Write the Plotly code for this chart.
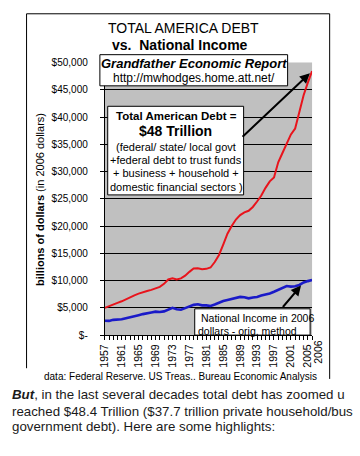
import plotly.graph_objects as go

W, H = 360, 456


def px(x):
    return x / W


def py(y):
    return 1 - y / H


FONT = "Liberation Sans, Arial, sans-serif"

# ---------------- data ----------------
years = list(range(1957, 2007))
total_debt = [
    5000, 5350, 5650, 5900, 6200, 6600, 7000, 7300, 7600, 7900,
    8100, 8300, 8550, 8850, 9400, 10200, 10400, 10200, 10400, 10900,
    11600, 12200, 12250, 12100, 12150, 12400, 13400, 14700, 16600, 18600,
    20000, 21200, 22000, 22500, 22800, 23500, 24500, 25600, 27000, 28200,
    28900, 31700, 33400, 35200, 36800, 37900, 41000, 44000, 46300, 48400,
]
national_income = [
    2620, 2600, 2800, 2850, 2900, 3100, 3250, 3450, 3650, 3850,
    3950, 4150, 4300, 4250, 4350, 4700, 5000, 4750, 4650, 4950,
    5250, 5550, 5650, 5450, 5450, 5350, 5600, 6000, 6250, 6450,
    6650, 6900, 7000, 6950, 6750, 6900, 7000, 7250, 7400, 7650,
    7950, 8300, 8650, 9000, 8900, 8950, 9200, 9650, 9900, 10100,
]
y_ticks = list(range(0, 50001, 5000))
y_tick_text = ["$-"] + [f"${v:,}" for v in y_ticks[1:]]
x_tick_years = list(range(1957, 2006, 4))
x_tick_text = [str(v) for v in x_tick_years]
x_extra_label = "2006"

fig = go.Figure()
fig.add_trace(go.Scatter(x=years, y=total_debt, mode="lines",
                         line=dict(color="#E8141C", width=2), showlegend=False,
                         hoverinfo="skip"))
fig.add_trace(go.Scatter(x=years, y=national_income, mode="lines",
                         line=dict(color="#1A1AC8", width=2.6), showlegend=False,
                         hoverinfo="skip"))

shapes = []
# outer frame (left, top, right)
shapes.append(dict(type="line", xref="paper", yref="paper", x0=px(20), x1=px(20),
                   y0=py(8), y1=py(372), line=dict(color="black", width=1)))
shapes.append(dict(type="line", xref="paper", yref="paper", x0=px(20), x1=px(330),
                   y0=py(8), y1=py(8), line=dict(color="black", width=1)))
shapes.append(dict(type="line", xref="paper", yref="paper", x0=px(330), x1=px(330),
                   y0=py(8), y1=py(383), line=dict(color="black", width=1)))
# text boxes
for (x0, y0, x1, y1) in [(95, 50, 287, 82), (103, 103, 242, 194), (192, 311, 310, 338)]:
    shapes.append(dict(type="rect", xref="paper", yref="paper", layer="above",
                       x0=px(x0), x1=px(x1), y0=py(y0), y1=py(y1),
                       fillcolor="white", line=dict(color="black", width=1)))

ann = []


def text(t, x, y, size, anchor="center", angle=0, color="black"):
    ann.append(dict(text=t, xref="paper", yref="paper", x=px(x), y=py(y),
                    xanchor=anchor, yanchor="middle", showarrow=False,
                    textangle=angle, font=dict(family=FONT, size=size, color=color)))


text("TOTAL AMERICA DEBT", 181, 23, 14)
text("<b>vs.&nbsp; National Income</b>", 177, 40, 14)
text("<b>billions of dollars</b> (in 2006 dollars)", 34, 199, 11, angle=-90)
text("<b><i>Grandfather Economic Report</i></b>", 191, 59, 13)
text("http://mwhodges.home.att.net/", 191, 74, 12)
text("<b>Total American Debt =</b>", 173, 113, 11.5)
text("<b>$48 Trillion</b>", 172, 128, 14)
text("(federal/ state/ local govt", 173, 145, 11)
text("+federal debt to trust funds", 173, 158, 11)
text("+ business + household +", 173, 172, 11)
text("domestic financial sectors )", 173, 186, 11)
text("National Income in 2006", 196, 320, 10.5, anchor="left")
text("dollars - orig. method", 193, 334, 10.5, anchor="left")
text("data: Federal Reserve. US Treas.. Bureau Economic Analysis", 177, 381, 10)
text("<b><i>But</i></b>, in the last several decades total debt has zoomed u", 3, 399, 13.3, anchor="left", color="#1a1a1a")
text("reached $48.4 Trillion ($37.7 trillion private household/bus", 3, 416, 13.3, anchor="left", color="#1a1a1a")
text("government debt). Here are some highlights:", 3, 432, 13.3, anchor="left", color="#1a1a1a")

# extra 2006 tick label, nudged right as in the original
ann.append(dict(text=x_extra_label, x=years[-1], xref="x", y=py(355), yref="paper",
                xanchor="center", yanchor="middle", textangle=-90, showarrow=False,
                xshift=6, font=dict(family=FONT, size=10.5, color="black")))

# arrows
ann.append(dict(x=years[-1], y=total_debt[-1], xref="x", yref="y", ax=-71, ay=67,
                axref="pixel", ayref="pixel", text="", showarrow=True, arrowhead=2,
                arrowsize=1, arrowwidth=2, arrowcolor="black", standoff=3))
i04 = years.index(2004)
ann.append(dict(x=years[i04], y=national_income[i04], xref="x", yref="y", ax=-22, ay=26,
                axref="pixel", ayref="pixel", text="", showarrow=True, arrowhead=2,
                arrowsize=1, arrowwidth=2, arrowcolor="black", standoff=4))

fig.update_layout(
    width=W, height=H,
    margin=dict(l=0, r=0, t=0, b=0),
    paper_bgcolor="white",
    plot_bgcolor="#C0C0C0",
    font=dict(family=FONT, size=10, color="black"),
    shapes=shapes,
    annotations=ann,
    hovermode=False,
    xaxis=dict(
        domain=[px(100), px(312)],
        range=[years[0], years[-1]],
        tickmode="array", tickvals=x_tick_years, ticktext=x_tick_text,
        tickangle=-90, tickfont=dict(size=10.5),
        ticks="outside", ticklen=4, tickcolor="black", tickwidth=1,
        minor=dict(tickmode="linear", tick0=1957, dtick=1, ticks="outside",
                   ticklen=4, tickcolor="black", tickwidth=1, showgrid=False),
        showgrid=False, zeroline=False,
        showline=True, linecolor="black", linewidth=1,
    ),
    yaxis=dict(
        domain=[py(338), py(58)],
        range=[0, 50000],
        tickmode="array", tickvals=y_ticks, ticktext=y_tick_text,
        tickfont=dict(size=10),
        ticks="outside", ticklen=4, tickcolor="black", tickwidth=1,
        ticklabelstandoff=10,
        showgrid=True, gridcolor="black", gridwidth=1,
        zeroline=False,
        showline=True, linecolor="black", linewidth=1,
    ),
)

fig.write_html(
    "out.html",
    config={"displayModeBar": False, "staticPlot": True},
    post_script="document.body.style.margin='0';document.body.style.overflow='hidden';",
)
